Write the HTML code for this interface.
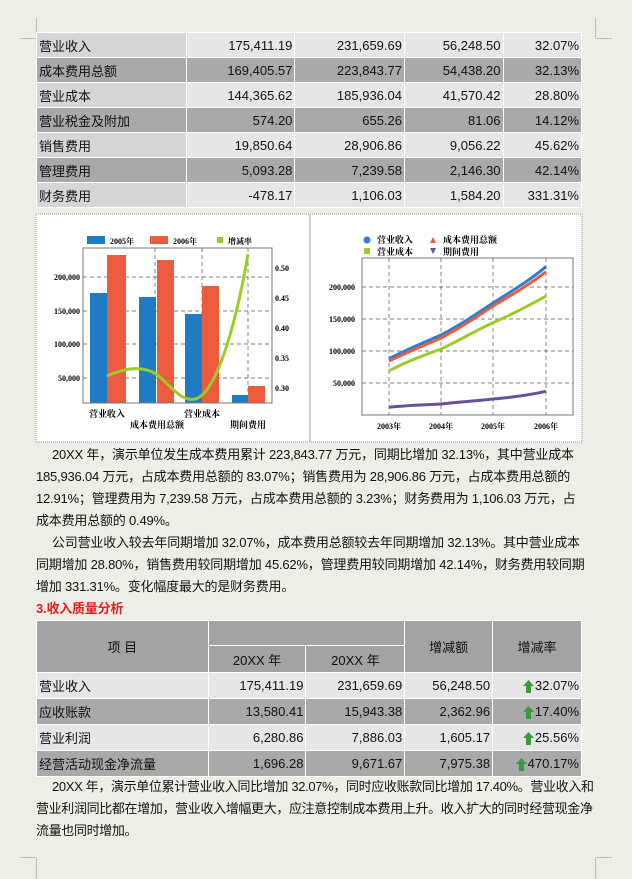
<!DOCTYPE html>
<html><head><meta charset="utf-8"><style>
body{margin:0;width:632px;height:879px;background:#efeee6;font-family:"Liberation Sans","Noto Sans CJK SC",sans-serif;position:relative;overflow:hidden;color:#111}
.abs{position:absolute}
table{border-collapse:collapse;position:absolute;font-size:13px}
td{border:1px solid #fff;padding:0 2px;height:24px;text-align:right;white-space:nowrap}
td.l{text-align:left}
.lt td{background:#e6e6e6}.lt td.l{background:#d6d6d6}
.dk td{background:#a9a9a9}
p{margin:0;position:absolute;left:36px;width:552px;font-size:13px;line-height:22px;text-indent:16px;letter-spacing:-0.2px}
.t2 td{height:25px}
.t2 th{background:#a3a3a3;border:1px solid #fff;font-weight:normal;font-size:13px}
.up{display:inline-block;vertical-align:middle;margin-right:1px}
</style></head><body>
<div class="abs" style="left:36px;top:18px;width:1px;height:20px;background:#bbb"></div>
<div class="abs" style="left:20px;top:38px;width:16px;height:1px;background:#bbb"></div>
<div class="abs" style="left:595px;top:18px;width:1px;height:20px;background:#bbb"></div>
<div class="abs" style="left:596px;top:38px;width:16px;height:1px;background:#bbb"></div>
<table style="left:36px;top:32px;width:546px">
<colgroup><col style="width:149px"><col style="width:108px"><col style="width:109px"><col style="width:98px"><col style="width:78px"></colgroup>
<tr class="lt"><td class="l">营业收入</td><td>175,411.19</td><td>231,659.69</td><td>56,248.50</td><td>32.07%</td></tr>
<tr class="dk"><td class="l">成本费用总额</td><td>169,405.57</td><td>223,843.77</td><td>54,438.20</td><td>32.13%</td></tr>
<tr class="lt"><td class="l">营业成本</td><td>144,365.62</td><td>185,936.04</td><td>41,570.42</td><td>28.80%</td></tr>
<tr class="dk"><td class="l">营业税金及附加</td><td>574.20</td><td>655.26</td><td>81.06</td><td>14.12%</td></tr>
<tr class="lt"><td class="l">销售费用</td><td>19,850.64</td><td>28,906.86</td><td>9,056.22</td><td>45.62%</td></tr>
<tr class="dk"><td class="l">管理费用</td><td>5,093.28</td><td>7,239.58</td><td>2,146.30</td><td>42.14%</td></tr>
<tr class="lt"><td class="l">财务费用</td><td>-478.17</td><td>1,106.03</td><td>1,584.20</td><td>331.31%</td></tr>
</table>
<svg class="abs" style="left:0;top:0" width="632" height="879" font-family="Liberation Serif,Noto Serif CJK SC,serif" font-weight="bold" font-size="8">
<rect x="36" y="214" width="546" height="228" fill="#fff" stroke="#999" stroke-dasharray="1,1"/>
<line x1="310" y1="214" x2="310" y2="442" stroke="#ccc" stroke-width="2"/>
<g stroke="#555" stroke-dasharray="4,3" stroke-width="0.7">
<line x1="83" y1="277" x2="272" y2="277"/><line x1="83" y1="311" x2="272" y2="311"/><line x1="83" y1="344" x2="272" y2="344"/><line x1="83" y1="378" x2="272" y2="378"/>
<line x1="155" y1="248" x2="155" y2="403"/><line x1="202" y1="248" x2="202" y2="403"/><line x1="248" y1="248" x2="248" y2="403"/>
</g>
<g fill="#1f7cc4"><rect x="90" y="293" width="17" height="110"/><rect x="139" y="297" width="17" height="106"/><rect x="185" y="314" width="17" height="89"/><rect x="232" y="395" width="16" height="8"/></g>
<g fill="#ec5b3b"><rect x="107" y="255" width="19" height="148"/><rect x="157" y="260" width="17" height="143"/><rect x="202" y="286" width="17" height="117"/><rect x="248" y="386" width="17" height="17"/></g>
<rect x="83" y="248" width="189" height="155" fill="none" stroke="#777"/>
<path d="M107,376 C120,370 140,364 156,374 C170,384 180,402 195,399 C215,395 235,330 248,254" fill="none" stroke="#9ccb2a" stroke-width="3"/>
<g text-anchor="end"><text x="80" y="280">200,000</text><text x="80" y="314">150,000</text><text x="80" y="347">100,000</text><text x="80" y="381">50,000</text></g>
<text x="275" y="271">0.50</text><text x="275" y="301">0.45</text><text x="275" y="331">0.40</text><text x="275" y="361">0.35</text><text x="275" y="391">0.30</text>
<g text-anchor="middle" font-size="9"><text x="107" y="417">营业收入</text><text x="157" y="428">成本费用总额</text><text x="202" y="417">营业成本</text><text x="248" y="428">期间费用</text></g>
<rect x="87" y="236" width="18" height="8" fill="#1f7cc4"/><text x="110" y="244">2005年</text>
<rect x="150" y="236" width="18" height="8" fill="#ec5b3b"/><text x="173" y="244">2006年</text>
<rect x="217" y="237" width="6" height="6" fill="#9ccb2a"/><text x="228" y="244">增减率</text>
<g stroke="#555" stroke-dasharray="4,3" stroke-width="0.7">
<line x1="362" y1="287" x2="573" y2="287"/><line x1="362" y1="319" x2="573" y2="319"/><line x1="362" y1="351" x2="573" y2="351"/><line x1="362" y1="383" x2="573" y2="383"/>
<line x1="389" y1="258" x2="389" y2="415"/><line x1="441" y1="258" x2="441" y2="415"/><line x1="493" y1="258" x2="493" y2="415"/><line x1="546" y1="258" x2="546" y2="415"/>
</g>
<rect x="362" y="258" width="211" height="157" fill="none" stroke="#777"/>
<g fill="none" stroke-width="3">
<path d="M389,358.7 C410,348 425,342 441,335 C460,325 475,315 493,303 C515,289 530,280 546,266.7" stroke="#2f7fd0"/>
<path d="M389,361 C410,351 425,345 441,338 C460,328 475,318 493,306 C515,293 530,284 546,271.8" stroke="#ec5b3b"/>
<path d="M389,370.8 C410,360 425,355 441,349 C460,340 475,331 493,322.8 C515,313 530,305 546,296" stroke="#9ccb2a"/>
<path d="M389,407.3 C410,405 425,405 441,404 C460,402 475,401 493,399 C515,397 530,395 546,391.3" stroke="#6a4f9a"/>
</g>
<g text-anchor="end"><text x="355" y="290">200,000</text><text x="355" y="322">150,000</text><text x="355" y="354">100,000</text><text x="355" y="386">50,000</text></g>
<g text-anchor="middle"><text x="389" y="429">2003年</text><text x="441" y="429">2004年</text><text x="493" y="429">2005年</text><text x="546" y="429">2006年</text></g>
<g font-size="9"><circle cx="367" cy="240" r="3.5" fill="#2f7fd0"/><text x="377" y="243">营业收入</text>
<path d="M433,237 L436,243 L430,243Z" fill="#ec5b3b"/><text x="443" y="243">成本费用总额</text>
<rect x="364" y="248" width="6" height="6" fill="#9ccb2a"/><text x="377" y="255">营业成本</text>
<path d="M430,248 L436,248 L433,254Z" fill="#6a4f9a"/><text x="443" y="255">期间费用</text></g>
</svg>
<p style="top:444px">20XX 年，演示单位发生成本费用累计 223,843.77 万元，同期比增加 32.13%，其中营业成本 185,936.04 万元，占成本费用总额的 83.07%；销售费用为 28,906.86 万元，占成本费用总额的 12.91%；管理费用为 7,239.58 万元，占成本费用总额的 3.23%；财务费用为 1,106.03 万元，占成本费用总额的 0.49%。</p>
<p style="top:532px">公司营业收入较去年同期增加 32.07%，成本费用总额较去年同期增加 32.13%。其中营业成本同期增加 28.80%，销售费用较同期增加 45.62%，管理费用较同期增加 42.14%，财务费用较同期增加 331.31%。变化幅度最大的是财务费用。</p>
<p style="top:598px;text-indent:0;color:#e0201c;font-weight:bold">3.收入质量分析</p>
<table class="t2" style="left:36px;top:620px;width:546px;border:1px solid #333">
<colgroup><col style="width:172px"><col style="width:98px"><col style="width:99px"><col style="width:88px"><col style="width:89px"></colgroup>
<tr><th rowspan="2" style="height:48px">项 目</th><th colspan="2" style="height:22px"></th><th rowspan="2">增减额</th><th rowspan="2">增减率</th></tr>
<tr><th style="height:24px">20XX 年</th><th>20XX 年</th></tr>
<tr class="lt"><td class="l" style="background:#e6e6e6">营业收入</td><td>175,411.19</td><td>231,659.69</td><td>56,248.50</td><td><svg class="up" width="11" height="13"><path d="M5.5,0 L11,6 L8,6 L8,13 L3,13 L3,6 L0,6Z" fill="#3a9a3a"/></svg>32.07%</td></tr>
<tr class="dk"><td class="l">应收账款</td><td>13,580.41</td><td>15,943.38</td><td>2,362.96</td><td><svg class="up" width="11" height="13"><path d="M5.5,0 L11,6 L8,6 L8,13 L3,13 L3,6 L0,6Z" fill="#3a9a3a"/></svg>17.40%</td></tr>
<tr class="lt"><td class="l" style="background:#e6e6e6">营业利润</td><td>6,280.86</td><td>7,886.03</td><td>1,605.17</td><td><svg class="up" width="11" height="13"><path d="M5.5,0 L11,6 L8,6 L8,13 L3,13 L3,6 L0,6Z" fill="#3a9a3a"/></svg>25.56%</td></tr>
<tr class="dk"><td class="l">经营活动现金净流量</td><td>1,696.28</td><td>9,671.67</td><td>7,975.38</td><td><svg class="up" width="11" height="13"><path d="M5.5,0 L11,6 L8,6 L8,13 L3,13 L3,6 L0,6Z" fill="#3a9a3a"/></svg>470.17%</td></tr>
</table>
<p style="top:776px;width:558px;letter-spacing:-0.35px">20XX 年，演示单位累计营业收入同比增加 32.07%，同时应收账款同比增加 17.40%。营业收入和营业利润同比都在增加，营业收入增幅更大，应注意控制成本费用上升。收入扩大的同时经营现金净流量也同时增加。</p>
<div class="abs" style="left:36px;top:858px;width:1px;height:21px;background:#bbb"></div>
<div class="abs" style="left:20px;top:857px;width:16px;height:1px;background:#bbb"></div>
<div class="abs" style="left:595px;top:858px;width:1px;height:21px;background:#bbb"></div>
<div class="abs" style="left:596px;top:857px;width:16px;height:1px;background:#bbb"></div>
</body></html>
